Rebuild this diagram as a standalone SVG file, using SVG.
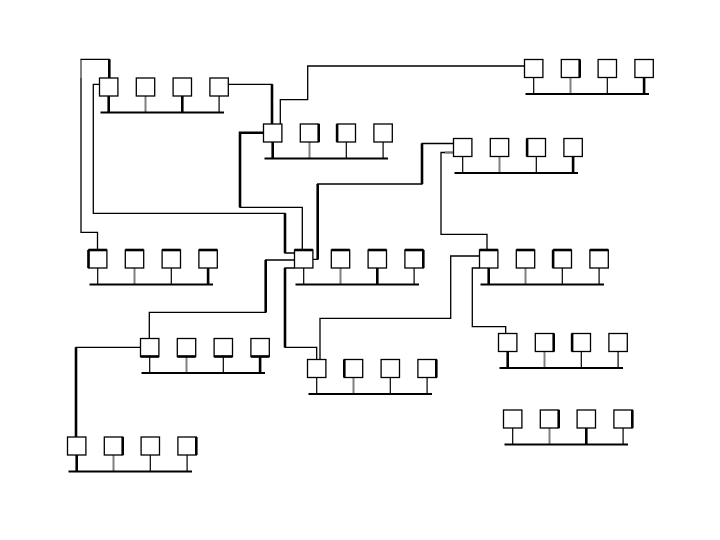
<svg xmlns="http://www.w3.org/2000/svg" width="720" height="540" viewBox="0 0 720 540">
<style>
.bx{fill:#fff;stroke:#000;stroke-width:1.3}
.bus{stroke:#000;stroke-width:2;fill:none}
.d{stroke:#000;stroke-width:1.2}
.dk{stroke:#000;stroke-width:2.6}
.dg{stroke:#808080;stroke-width:2}
.e{stroke:#000;stroke-width:2.6}
.c{fill:none;stroke:#000;stroke-width:1.3}
.ck{fill:none;stroke:#000;stroke-width:2.6}
</style>
<rect width="720" height="540" fill="#fff"/>
<g id="connectors">
<polyline class="c" points="109.3,78 109.3,59.3 81,59.3 81,232.3 97.5,232.3 97.5,250"/>
<line class="ck" x1="109.3" y1="59.3" x2="109.3" y2="78"/>
<line x1="81" y1="60" x2="81" y2="78" stroke="#888" stroke-width="1.8"/>
<polyline class="c" points="99.5,84.3 93.3,84.3 93.3,213.3 285,213.3 285,253 294.5,253"/>
<line class="ck" x1="285" y1="213.3" x2="285" y2="253"/>
<polyline class="c" points="263.5,132.7 240,132.7 240,207.3 302.3,207.3 302.3,250"/>
<polyline class="ck" points="263.5,132.7 240,132.7 240,207.3"/>
<polyline class="c" points="227.5,84.3 272,84.3 272,124"/>
<line class="ck" x1="272" y1="84.3" x2="272" y2="124"/>
<polyline class="c" points="280.3,124 280.3,99.7 307.7,99.7 307.7,66 524.5,66"/>
<polyline class="c" points="453.5,143.5 422,143.5 422,184 317.7,184 317.7,259.3 312.9,259.3"/>
<line class="ck" x1="422" y1="143.5" x2="422" y2="184"/>
<line class="ck" x1="317.7" y1="184" x2="317.7" y2="259.3"/>
<polyline class="c" points="453.5,152.5 441,152.5 441,234.3 487,234.3 487,250"/>
<line x1="445" y1="152.5" x2="453" y2="152.5" stroke="#777" stroke-width="2"/>
<polyline class="c" points="479.5,256 450.7,256 450.7,318.3 320,318.3 320,359.5"/>
<polyline class="c" points="479.5,268 472.3,268 472.3,326.7 505.7,326.7 505.7,333.5"/>
<polyline class="c" points="294.5,260 265.7,260 265.7,312.3 149.3,312.3 149.3,338.5"/>
<line class="ck" x1="265.7" y1="260" x2="265.7" y2="312.3"/>
<polyline class="c" points="294.5,268 285,268 285,347.3 316.7,347.3 316.7,359.5"/>
<line class="ck" x1="285" y1="268" x2="285" y2="347.3"/>
<polyline class="c" points="140.5,347.3 76,347.3 76,437"/>
<line class="ck" x1="76" y1="347.3" x2="76" y2="437"/>
</g>
<defs>
<g id="grp">
<line class="bus" x1="1" y1="34.5" x2="124.5" y2="34.5"/>
<rect class="bx" x="0" y="0" width="18.4" height="18"/>
<rect class="bx" x="36.8" y="0" width="18.4" height="18"/>
<rect class="bx" x="73.6" y="0" width="18.4" height="18"/>
<rect class="bx" x="110.4" y="0" width="18.4" height="18"/>
</g>
</defs>
<g id="A" transform="translate(99.5,78)">
<line class="dk" x1="9.2" y1="18" x2="9.2" y2="34.5"/><line class="dg" x1="46" y1="18" x2="46" y2="34.5"/><line class="dk" x1="82.8" y1="18" x2="82.8" y2="34.5"/><line class="d" x1="119.6" y1="18" x2="119.6" y2="34.5"/>
<use href="#grp"/>
</g>
<g id="B" transform="translate(263.5,124)">
<line class="dk" x1="9.2" y1="18" x2="9.2" y2="34.5"/><line class="dg" x1="46" y1="18" x2="46" y2="34.5"/><line class="d" x1="82.8" y1="18" x2="82.8" y2="34.5"/><line class="d" x1="119.6" y1="18" x2="119.6" y2="34.5"/>
<use href="#grp"/>
<line class="e" x1="55.2" y1="0" x2="55.2" y2="18"/><line class="e" x1="73.6" y1="0" x2="73.6" y2="18"/>
</g>
<g id="C" transform="translate(524.5,59.5)">
<line class="d" x1="9.2" y1="18" x2="9.2" y2="34.5"/><line class="dg" x1="46" y1="18" x2="46" y2="34.5"/><line class="d" x1="82.8" y1="18" x2="82.8" y2="34.5"/><line class="dk" x1="119.6" y1="18" x2="119.6" y2="34.5"/>
<use href="#grp"/>
<line class="e" x1="55.2" y1="0" x2="55.2" y2="18"/>
</g>
<g id="D" transform="translate(453.5,138.5)">
<line class="d" x1="9.2" y1="18" x2="9.2" y2="34.5"/><line class="dg" x1="46" y1="18" x2="46" y2="34.5"/><line class="d" x1="82.8" y1="18" x2="82.8" y2="34.5"/><line class="dk" x1="119.6" y1="18" x2="119.6" y2="34.5"/>
<use href="#grp"/>
<line class="e" x1="73.6" y1="0" x2="73.6" y2="18"/>
</g>
<g id="E" transform="translate(88.5,250)">
<line class="d" x1="9.2" y1="18" x2="9.2" y2="34.5"/><line class="dg" x1="46" y1="18" x2="46" y2="34.5" stroke="#aaa"/><line class="d" x1="82.8" y1="18" x2="82.8" y2="34.5"/><line class="dk" x1="119.6" y1="18" x2="119.6" y2="34.5"/>
<use href="#grp"/>
<line class="e" x1="0" y1="0" x2="0" y2="18"/><line class="e" x1="0" y1="0" x2="18.4" y2="0"/><line class="e" x1="36.8" y1="0" x2="55.2" y2="0"/><line class="e" x1="73.6" y1="0" x2="92" y2="0"/><line class="e" x1="110.4" y1="0" x2="128.8" y2="0"/>
</g>
<g id="F" transform="translate(294.5,250)">
<line class="d" x1="9.2" y1="18" x2="9.2" y2="34.5"/><line class="dg" x1="46" y1="18" x2="46" y2="34.5"/><line class="dk" x1="82.8" y1="18" x2="82.8" y2="34.5"/><line class="d" x1="119.6" y1="18" x2="119.6" y2="34.5"/>
<use href="#grp"/>
<line class="e" x1="0" y1="0" x2="18.4" y2="0"/><line class="e" x1="36.8" y1="0" x2="55.2" y2="0"/><line class="e" x1="73.6" y1="0" x2="92" y2="0"/><line class="e" x1="110.4" y1="0" x2="128.8" y2="0"/><line class="e" x1="128.8" y1="0" x2="128.8" y2="18"/>
</g>
<g id="G" transform="translate(479.5,250)">
<line class="dk" x1="9.2" y1="18" x2="9.2" y2="34.5"/><line class="dg" x1="46" y1="18" x2="46" y2="34.5"/><line class="d" x1="82.8" y1="18" x2="82.8" y2="34.5"/><line class="d" x1="119.6" y1="18" x2="119.6" y2="34.5"/>
<use href="#grp"/>
<line class="e" x1="0" y1="0" x2="18.4" y2="0"/><line class="e" x1="36.8" y1="0" x2="55.2" y2="0"/><line class="e" x1="73.6" y1="0" x2="92" y2="0"/><line class="e" x1="110.4" y1="0" x2="128.8" y2="0"/><line class="e" x1="73.6" y1="0" x2="73.6" y2="18"/>
</g>
<g id="H" transform="translate(498.5,333.5)">
<line class="dk" x1="9.2" y1="18" x2="9.2" y2="34.5"/><line class="dg" x1="46" y1="18" x2="46" y2="34.5"/><line class="d" x1="82.8" y1="18" x2="82.8" y2="34.5"/><line class="d" x1="119.6" y1="18" x2="119.6" y2="34.5"/>
<use href="#grp"/>
<line class="e" x1="55.2" y1="0" x2="55.2" y2="18"/><line class="e" x1="73.6" y1="0" x2="73.6" y2="18"/>
</g>
<g id="I" transform="translate(140.5,338.5)">
<line class="d" x1="9.2" y1="18" x2="9.2" y2="34.5"/><line class="dg" x1="46" y1="18" x2="46" y2="34.5" stroke="#aaa"/><line class="d" x1="82.8" y1="18" x2="82.8" y2="34.5"/><line class="dk" x1="119.6" y1="18" x2="119.6" y2="34.5"/>
<use href="#grp"/>
<line class="e" x1="0" y1="18" x2="18.4" y2="18"/><line class="e" x1="36.8" y1="18" x2="55.2" y2="18"/><line class="e" x1="73.6" y1="18" x2="92" y2="18"/><line class="e" x1="110.4" y1="18" x2="128.8" y2="18"/>
</g>
<g id="J" transform="translate(67.5,437)">
<line class="dk" x1="9.2" y1="18" x2="9.2" y2="34.5"/><line class="dg" x1="46" y1="18" x2="46" y2="34.5"/><line class="d" x1="82.8" y1="18" x2="82.8" y2="34.5"/><line class="d" x1="119.6" y1="18" x2="119.6" y2="34.5"/>
<use href="#grp"/>
<line class="e" x1="55.2" y1="0" x2="55.2" y2="18"/><line class="e" x1="128.8" y1="0" x2="128.8" y2="18"/>
</g>
<g id="K" transform="translate(307.5,359.5)">
<line class="d" x1="9.2" y1="18" x2="9.2" y2="34.5"/><line class="dg" x1="46" y1="18" x2="46" y2="34.5"/><line class="d" x1="82.8" y1="18" x2="82.8" y2="34.5"/><line class="d" x1="119.6" y1="18" x2="119.6" y2="34.5"/>
<use href="#grp"/>
<line class="e" x1="36.8" y1="0" x2="36.8" y2="18"/><line class="e" x1="128.8" y1="0" x2="128.8" y2="18"/>
</g>
<g id="L" transform="translate(503.5,410)">
<line class="d" x1="9.2" y1="18" x2="9.2" y2="34.5"/><line class="dg" x1="46" y1="18" x2="46" y2="34.5"/><line class="dk" x1="82.8" y1="18" x2="82.8" y2="34.5"/><line class="d" x1="119.6" y1="18" x2="119.6" y2="34.5"/>
<use href="#grp"/>
<line class="e" x1="55.2" y1="0" x2="55.2" y2="18"/><line class="e" x1="128.8" y1="0" x2="128.8" y2="18"/>
</g>
</svg>
